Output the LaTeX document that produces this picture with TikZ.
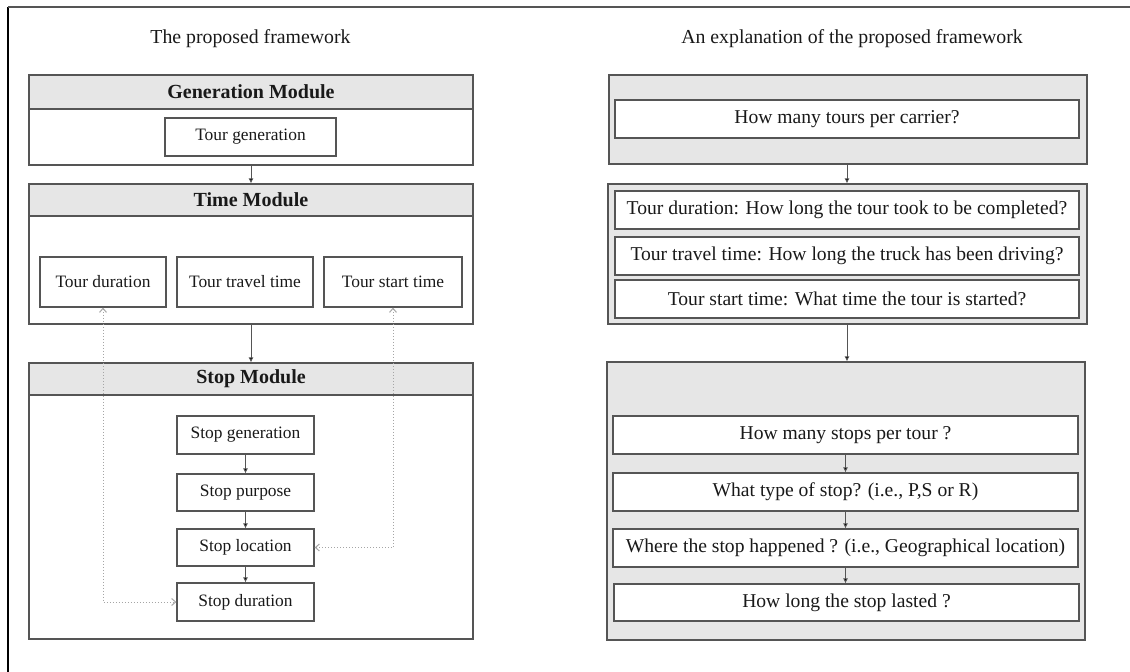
\documentclass[tikz,border=0pt]{standalone}
\usepackage{fontspec}
\setmainfont{Liberation Serif}
\usetikzlibrary{arrows.meta}
\definecolor{edge}{RGB}{85,85,85}
\definecolor{band}{RGB}{230,230,230}
\definecolor{ink}{RGB}{25,25,25}
\definecolor{dots}{RGB}{165,165,165}
\tikzset{
  box/.style={draw=edge, line width=1.3pt, fill=white, rectangle, inner sep=0pt,
              text=ink, font=\fontsize{17.4}{20}\selectfont},
  qbox/.style={box, font=\fontsize{19.6}{22}\selectfont},
  panel/.style={draw=edge, line width=1.3pt, rectangle, inner sep=0pt},
  graypanel/.style={panel, fill=band},
  head/.style={draw=edge, line width=1.3pt, fill=band, rectangle, inner sep=0pt,
               text=ink, font=\fontsize{20}{22}\selectfont\bfseries},
  title/.style={text=ink, font=\fontsize{19.8}{22}\selectfont},
  arr/.style={draw=edge, line width=0.8pt, -{Latex[length=5pt,width=5pt,fill=black]}},
  link/.style={draw=dots, line width=1pt, dotted, {Straight Barb[length=4pt,width=7pt]}-{Straight Barb[length=4pt,width=7pt]}}
}
\begin{document}
\begin{tikzpicture}[x=1pt, y=-1pt]
\useasboundingbox (0,0) rectangle (1130,672);
\fill[white] (0,0) rectangle (1130,672);
% outer frame, left and top edges
\draw[black, line width=2pt] (8,7) -- (8,672);
\draw[edge, line width=2pt] (8,7) -- (1130,7);

% column titles
\node[title] (ltitle) at (250.5,39) {The proposed framework};
\node[title] (rtitle) at (852,39) {An explanation of the proposed framework};

% ---------- left column: modules ----------
\node[panel, fill=white, minimum width=444pt, minimum height=90pt] (genmod) at (251,120) {};
\node[head, minimum width=444pt, minimum height=34pt] (genhead) at (251,92) {Generation Module};
\node[box, minimum width=171pt, minimum height=38pt] (tourgen) at (250.5,137) {Tour generation};

\node[panel, fill=white, minimum width=444pt, minimum height=140pt] (timemod) at (251,254) {};
\node[head, minimum width=444pt, minimum height=32pt] (timehead) at (251,200) {Time Module};
\node[box, minimum width=126pt, minimum height=50pt] (tdur) at (103,282) {Tour duration};
\node[box, minimum width=136pt, minimum height=50pt] (ttravel) at (245,282) {Tour travel time};
\node[box, minimum width=138pt, minimum height=50pt] (tstart) at (393,282) {Tour start time};

\node[panel, fill=white, minimum width=444pt, minimum height=276pt] (stopmod) at (251,501) {};
\node[head, minimum width=444pt, minimum height=32pt] (stophead) at (251,379) {Stop Module};
\node[box, minimum width=137pt, minimum height=38pt] (sgen) at (245.5,435) {Stop generation};
\node[box, minimum width=137pt, minimum height=37pt] (spur) at (245.5,492.5) {Stop purpose};
\node[box, minimum width=137pt, minimum height=37pt] (sloc) at (245.5,547.5) {Stop location};
\node[box, minimum width=137pt, minimum height=38pt] (sdur) at (245.5,602) {Stop duration};

\draw[arr] (genmod.south) -- (timemod.north);
\draw[arr] (timemod.south) -- (stophead.north);
\draw[arr] (sgen.south) -- (spur.north);
\draw[arr] (spur.south) -- (sloc.north);
\draw[arr] (sloc.south) -- (sdur.north);

% feedback links between time and stop modules
\draw[link] (tdur.south) |- (sdur.west);
\draw[link] (tstart.south) |- (sloc.east);

% ---------- right column: questions ----------
\node[graypanel, minimum width=478pt, minimum height=89pt] (q1box) at (848,119.5) {};
\node[qbox, minimum width=464pt, minimum height=38pt] (q1) at (847,119) {How many tours per carrier?};

\node[graypanel, minimum width=479pt, minimum height=140pt] (q2box) at (847.5,254) {};
\node[qbox, minimum width=464pt, minimum height=38pt] (q2a) at (847,210) {Tour duration: How long the tour took to be completed?};
\node[qbox, minimum width=464pt, minimum height=38pt] (q2b) at (847,256) {Tour travel time: How long the truck has been driving?};
\node[qbox, minimum width=464pt, minimum height=38pt] (q2c) at (847,299) {Tour start time: What time the tour is started?};

\node[graypanel, minimum width=478pt, minimum height=278pt] (q3box) at (846,501) {};
\node[qbox, minimum width=465pt, minimum height=38pt] (q3a) at (845.5,435) {How many stops per tour ?};
\node[qbox, minimum width=465pt, minimum height=38pt] (q3b) at (845.5,492) {What type of stop? (i.e., P,S or R)};
\node[qbox, minimum width=465pt, minimum height=38pt] (q3c) at (845.5,548) {Where the stop happened ? (i.e., Geographical location)};
\node[qbox, minimum width=465pt, minimum height=37pt] (q3d) at (846.5,602.5) {How long the stop lasted ?};

\draw[arr] (q1box.south -| q1.south) -- (q2box.north -| q1.south);
\draw[arr] (q2box.south -| q1.south) -- (q3box.north -| q1.south);
\draw[arr] (q3a.south) -- (q3b.north);
\draw[arr] (q3b.south) -- (q3c.north);
\draw[arr] (q3c.south) -- (q3d.north -| q3c.south);
\end{tikzpicture}
\end{document}
